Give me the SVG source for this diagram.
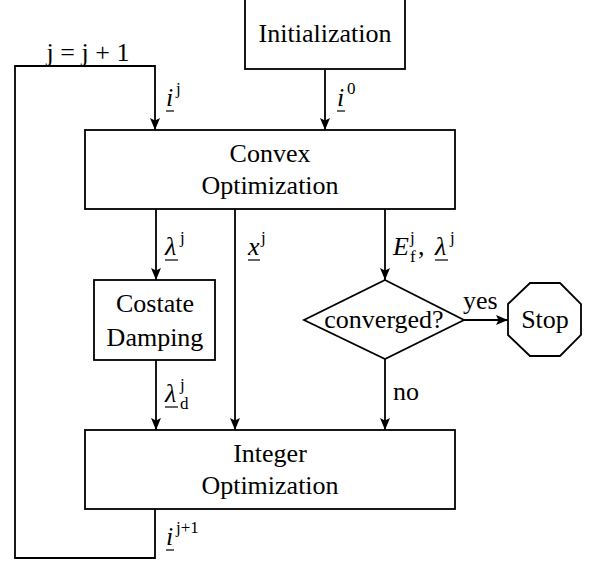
<svg xmlns="http://www.w3.org/2000/svg" width="595" height="565" viewBox="0 0 595 565" font-family="'Liberation Serif', 'Times New Roman', Times, 'DejaVu Serif', serif" font-size="26">
<style>
.box{fill:#fff;stroke:#000;stroke-width:1.8}
.c{fill:none;stroke:#000;stroke-width:1.8;marker-end:url(#ah)}
.u{stroke:#000;stroke-width:1.2}
.t{text-anchor:middle}
.m{font-style:italic}
.s{font-size:17px;font-style:normal}
</style>
<defs>
<marker id="ah" markerUnits="userSpaceOnUse" viewBox="0 0 12 10" refX="12" refY="5" markerWidth="12" markerHeight="10" orient="auto">
<path d="M0,0 L12,5 L0,10 L2.5,5 z" fill="#000"/>
</marker>
</defs>
<rect width="595" height="565" fill="#fff"/>
<g id="connectors">
<path class="c" d="M325,70 V130"/>
<path class="c" d="M155,509 V558 H15 V66 H155 V130"/>
<path class="c" d="M156,209 V280"/>
<path class="c" d="M235,209 V430"/>
<path class="c" d="M385,209 V280"/>
<path class="c" d="M156,360 V430"/>
<path class="c" d="M385,359 V430"/>
<path class="c" d="M464,320 H508"/>
</g>
<g id="labels">
<text x="88" y="61" class="t">j = j + 1</text>
<text x="166" y="106" class="m">i</text><line class="u" x1="166" y1="111" x2="174" y2="111"/><text x="176" y="94" class="s">j</text>
<text x="337" y="106" class="m">i</text><line class="u" x1="337" y1="111" x2="345" y2="111"/><text x="347" y="94" class="s">0</text>
<text x="165" y="255" class="m">λ</text><line class="u" x1="165" y1="260" x2="178" y2="260"/><text x="180" y="243" class="s">j</text>
<text x="248" y="255" class="m">x</text><line class="u" x1="248" y1="260" x2="260" y2="260"/><text x="261" y="243" class="s">j</text>
<text x="393" y="255" class="m">E</text><text x="410" y="243" class="s">j</text><text x="410" y="262" class="s">f</text><text x="418" y="255">,</text>
<text x="435" y="255" class="m">λ</text><line class="u" x1="435" y1="260" x2="448" y2="260"/><text x="450" y="243" class="s">j</text>
<text x="165" y="402" class="m">λ</text><line class="u" x1="165" y1="407" x2="178" y2="407"/><text x="180" y="390" class="s">j</text><text x="180" y="409" class="s">d</text>
<text x="393" y="400">no</text>
<text x="463" y="309">yes</text>
<text x="166" y="545" class="m">i</text><line class="u" x1="166" y1="550" x2="174" y2="550"/><text x="176" y="533" class="s">j+1</text>
</g>
<g id="init">
<rect class="box" x="245" y="-1" width="160" height="70"/>
<text x="325" y="42" class="t">Initialization</text>
</g>
<g id="convex">
<rect class="box" x="85" y="130" width="370" height="79"/>
<text x="270" y="162" class="t">Convex</text>
<text x="270" y="194" class="t">Optimization</text>
</g>
<g id="costate">
<rect class="box" x="94" y="280" width="121" height="80"/>
<text x="155" y="312" class="t">Costate</text>
<text x="155" y="346" class="t">Damping</text>
</g>
<g id="converged">
<polygon class="box" points="385,280 464,320 385,359 304,320"/>
<text x="384" y="328" class="t">converged?</text>
</g>
<g id="stop">
<polygon class="box" points="530,283 560,283 581,304 581,335 560,356 530,356 508,335 508,304"/>
<text x="545" y="328" class="t">Stop</text>
</g>
<g id="integer">
<rect class="box" x="85" y="430" width="370" height="79"/>
<text x="270" y="462" class="t">Integer</text>
<text x="270" y="494" class="t">Optimization</text>
</g>
</svg>
